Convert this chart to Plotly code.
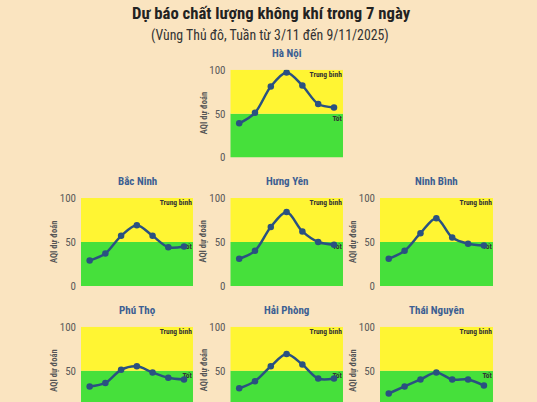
import plotly.graph_objects as go

days = ["3/11", "4/11", "5/11", "6/11", "7/11", "8/11", "9/11"]
provinces = ["Hà Nội", "Bắc Ninh", "Hưng Yên", "Ninh Bình", "Phú Thọ", "Hải Phòng", "Thái Nguyên"]
ha_noi = [39, 51, 81, 97, 82, 61, 57]
bac_ninh = [29, 37, 57, 69, 57, 44, 45]
hung_yen = [31, 40, 67, 84, 62, 50, 47]
ninh_binh = [31, 40, 60, 77, 55, 48, 46]
phu_tho = [32, 36, 51, 55, 48, 42, 40]
hai_phong = [30, 38, 55, 69, 57, 41, 41]
thai_nguyen = [24, 32, 40, 48, 40, 40, 33]
series = [ha_noi, bac_ninh, hung_yen, ninh_binh, phu_tho, hai_phong, thai_nguyen]

band_labels = ["Tốt", "Trung bình"]
band_lo = [0, 50]
band_hi = [50, 100]
band_colors = ["#46E03B", "#FFF533"]
y_ticks = [0, 50, 100]

W, H = 537, 410
FONT = "Roboto Condensed, Liberation Sans Narrow, DejaVu Sans Condensed, Roboto, sans-serif"
BG = "#FAE4C0"
LINE = "#2A5181"
TITLE_BLUE = "#3D5F92"

# target pixel boxes (as seen in the final picture); last row runs past the bottom edge
col_x = [(81, 193), (230.5, 343), (380, 493)]
row_y = [(70, 157.7), (198, 286), (326.7, 414.3)]
positions = [(0, 1), (1, 0), (1, 1), (1, 2), (2, 0), (2, 1), (2, 2)]


def fy(v):
    # picture row -> figure row (compensates the capture's vertical mapping)
    return (v - 6.3) / 0.967


def px(v):
    return v / W


def py(v):
    return 1 - fy(v) / H


fig = go.Figure()
layout = dict(
    width=W, height=H,
    paper_bgcolor=BG, plot_bgcolor=BG,
    margin=dict(l=0, r=0, t=0, b=0),
    showlegend=False,
    font=dict(family=FONT, color="#555"),
)
annotations = []
shapes = []

for i, (name, vals) in enumerate(zip(provinces, series)):
    r, c = positions[i]
    x0, x1 = col_x[c]
    y0, y1 = row_y[r]
    top_f, bot_f = fy(y0), fy(y1)
    vis_bot = min(bot_f, H)
    lo_val = 100 - 100 * (vis_bot - top_f) / (bot_f - top_f)
    n = i + 1
    xa = "x" if n == 1 else f"x{n}"
    ya = "y" if n == 1 else f"y{n}"
    xkey = "xaxis" if n == 1 else f"xaxis{n}"
    ykey = "yaxis" if n == 1 else f"yaxis{n}"
    layout[xkey] = dict(domain=[px(x0), px(x1)], range=[-0.55, 6.57], visible=False,
                        anchor=ya, fixedrange=True)
    layout[ykey] = dict(domain=[1 - vis_bot / H, 1 - top_f / H], range=[lo_val, 100],
                        anchor=xa, tickvals=[t for t in y_ticks if t >= lo_val - 1e-9],
                        showgrid=False, zeroline=False, showline=False, ticks="",
                        ticklabelstandoff=4,
                        tickfont=dict(size=11, color="#5a5a5a", family=FONT))
    for lo, hi, col in zip(band_lo, band_hi, band_colors):
        shapes.append(dict(type="rect", xref=f"{xa} domain", yref=ya, x0=0, x1=1,
                           y0=max(lo, lo_val), y1=hi, fillcolor=col, line=dict(width=0),
                           layer="below"))
    # band labels as text traces (under the line)
    fig.add_trace(go.Scatter(
        x=[6.5, 6.5], y=[44, 94.5], mode="text", text=band_labels,
        textposition="middle left",
        textfont=dict(size=7.5, color="#333", family=FONT, weight="bold"),
        xaxis=xa, yaxis=ya, hoverinfo="skip"))
    fig.add_trace(go.Scatter(
        x=list(range(len(days))), y=vals, mode="lines+markers",
        line=dict(color=LINE, width=2.5, shape="spline", smoothing=0.9),
        marker=dict(color=LINE, size=6.5),
        xaxis=xa, yaxis=ya, customdata=days))
    annotations.append(dict(text=f"<b>{name}</b>", xref="paper", yref="paper",
                            x=px((x0 + x1) / 2), y=py(y0 - 16),
                            showarrow=False, font=dict(size=11, color=TITLE_BLUE, family=FONT),
                            xanchor="center", yanchor="middle"))
    annotations.append(dict(text="<b>AQI dự đoán</b>", xref="paper", yref="paper",
                            x=px(x0 - 27), y=py((y0 + y1) / 2), textangle=-90,
                            showarrow=False, font=dict(size=8.5, color="#555", family=FONT),
                            xanchor="center", yanchor="middle"))

annotations.append(dict(text="<b>Dự báo chất lượng không khí trong 7 ngày</b>",
                        xref="paper", yref="paper", x=px(271), y=py(14),
                        showarrow=False, font=dict(size=16.7, color="#222", family=FONT),
                        xanchor="center", yanchor="middle"))
annotations.append(dict(text="(Vùng Thủ đô, Tuần từ 3/11 đến 9/11/2025)",
                        xref="paper", yref="paper", x=px(270), y=py(36),
                        showarrow=False, font=dict(size=13.8, color="#333", family=FONT),
                        xanchor="center", yanchor="middle"))

layout["annotations"] = annotations
layout["shapes"] = shapes
fig.update_layout(**layout)
fig.write_html(
    "out.html",
    config={"displayModeBar": False},
    post_script=(
        "document.documentElement.style.margin='0';"
        "document.body.style.margin='0';"
        "document.documentElement.style.overflow='hidden';"
        f"document.body.style.background='{BG}';"
    ),
)
